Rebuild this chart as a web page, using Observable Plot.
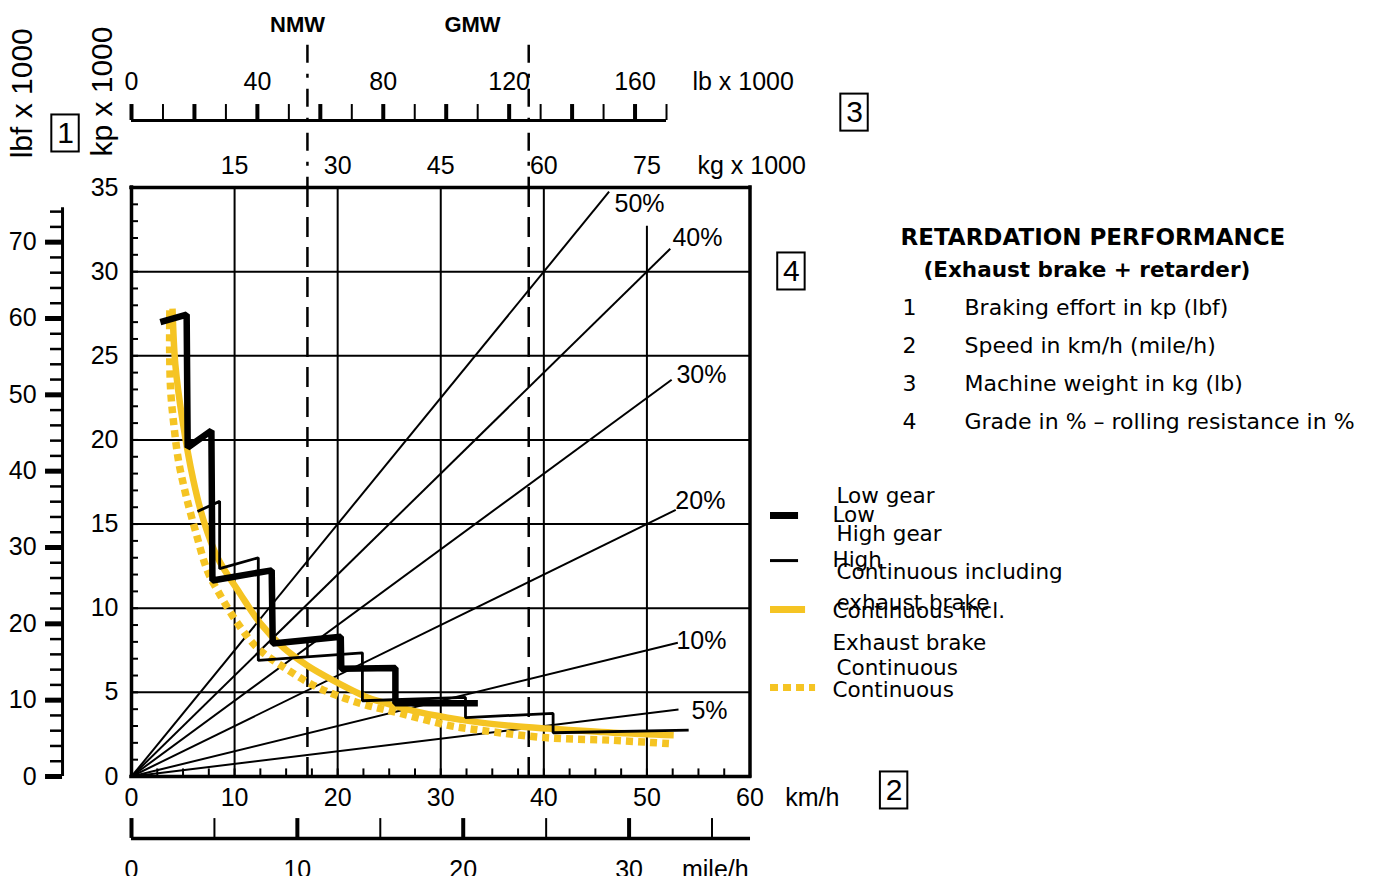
<!DOCTYPE html>
<html>
<head>
<meta charset="utf-8">
<script src="https://cdn.jsdelivr.net/npm/d3@7"></script>
<script src="https://cdn.jsdelivr.net/npm/@observablehq/plot@0.6"></script>
<style>
html, body { margin: 0; padding: 0; background: #fff; }
#chart { width: 1376px; height: 876px; overflow: hidden; }
</style>
</head>
<body>
<div id="chart"></div>
<script>
// ---------------- DATA (speed km/h, braking effort kp x 1000) ----------------
const lowGear = [
  [2.8, 27.0], [5.35, 27.45], [5.45, 19.55], [7.75, 20.55], [7.85, 11.65],
  [13.6, 12.25], [13.7, 7.9], [20.3, 8.3], [20.35, 6.4], [25.6, 6.45],
  [25.6, 4.35], [33.6, 4.35]
];
const highGear = [
  [6.4, 15.75], [8.55, 16.35], [8.55, 12.35], [12.3, 13.0], [12.3, 6.9],
  [22.4, 7.35], [22.4, 4.5], [32.4, 4.7], [32.4, 3.5], [40.9, 3.75],
  [40.9, 2.6], [54.05, 2.75]
];
const contExhaust = [
  [3.98, 27.8], [4.25, 24.5], [4.95, 21.15], [6.0, 17.6], [7.0, 15.2],
  [8.35, 13.0], [10.55, 10.85], [12.5, 9.1], [14.75, 7.65], [17.05, 6.6],
  [19.6, 5.7], [22.9, 4.7], [24.15, 4.45], [27.35, 3.9], [30.65, 3.5],
  [33.9, 3.2], [37.05, 3.0], [40.35, 2.85], [46.75, 2.6], [52.6, 2.45]
];
const contOnly = [
  [3.72, 27.7], [3.7, 25.5], [3.8, 22.95], [4.1, 20.95], [4.55, 18.8],
  [5.25, 16.8], [6.2, 14.6], [7.35, 12.25], [8.35, 11.05], [10.3, 9.1],
  [12.2, 7.65], [14.75, 6.5], [18.05, 5.3], [21.9, 4.4], [26.1, 3.75],
  [30.65, 3.05], [33.85, 2.75], [40.35, 2.3], [46.75, 2.15], [52.3, 1.95]
];
// grade lines: effort = weight x grade, drawn up to a machine weight (kg x 1000)
const grades = [5, 10, 20, 30, 40, 50];
const gradeEndWeight = [79.6, 79.5, 79.2, 78.6, 78.4, 69.5];
const gradeLabels = ["5%", "10%", "20%", "30%", "40%", "50%"];

// tick values
const kpTicks = [0, 5, 10, 15, 20, 25, 30, 35];
const kpGrid = [5, 10, 15, 20, 25, 30];
const lbfTicks = [0, 10, 20, 30, 40, 50, 60, 70];
const kmhTicks = [0, 10, 20, 30, 40, 50, 60];
const kgTicks = [15, 30, 45, 60, 75];
const lbTicks = [0, 40, 80, 120, 160];
const mphTicks = [0, 10, 20, 30];
const weightMarks = ["NMW", "GMW"];
const weightMarkKg = [25.6, 57.8];

// text
const infoTitle = "RETARDATION PERFORMANCE";
const infoSubtitle = "(Exhaust brake + retarder)";
const infoNums = ["1", "2", "3", "4"];
const infoItems = ["Braking effort in kp (lbf)", "Speed in km/h (mile/h)",
  "Machine weight in kg (lb)", "Grade in % \u2013 rolling resistance in %"];
const legendUpper = ["Low gear", "High gear", "Continuous including", "exhaust brake", "Continuous"];
const legendLower = ["Low", "High", "Continuous incl.", "Exhaust brake", "Continuous"];

// ---------------- scale conversions onto the shared axes ----------------
const kg = v => v / 1.5;         // kg x 1000 -> horizontal position in km/h units
const lb = v => v * 0.3053;      // lb x 1000 -> km/h units
const mph = v => v * 1.609;      // mile/h -> km/h
const lbf = v => v / 2.2046;     // lbf -> kp

const YEL = "#f5c423";
const AX = "Liberation Sans, Arial, sans-serif";
const TX = "DejaVu Sans, Verdana, sans-serif";

// layout constants (in chart units)
const LBF_AXIS_X = -6.69;
const LB_AXIS_Y = 38.98;
const MPH_AXIS_Y = -3.68;

const marks = [
  // grid
  Plot.ruleY(kpGrid, {x1: 0, x2: 60, stroke: "black", strokeWidth: 2}),
  Plot.ruleX([15, 30, 45, 60].map(kg), {y1: 0, y2: 35, stroke: "black", strokeWidth: 2}),
  Plot.ruleX([kg(75)], {y1: 0, y2: 32.7, stroke: "black", strokeWidth: 2}),
  // weight dashed lines
  Plot.ruleX(weightMarkKg.map(kg), {y1: 35, y2: 0, stroke: "black", strokeWidth: 2.5, strokeDasharray: "20,10"}),
  Plot.ruleX(weightMarkKg.map(kg), {y1: 43.45, y2: 35, stroke: "black", strokeWidth: 2.5, strokeDasharray: "18,11,4,11"}),
  // minor ticks
  Plot.ruleY(d3.range(1, 35), {x1: 0, x2: 0.68, stroke: "black", strokeWidth: 2}),
  Plot.ruleX(d3.range(2.5, 60, 2.5), {y1: 0, y2: 0.45, stroke: "black", strokeWidth: 2}),
  // grade lines
  Plot.link(grades, {
    x1: 0, y1: 0,
    x2: (g, i) => kg(gradeEndWeight[i]),
    y2: (g, i) => gradeEndWeight[i] * g / 100,
    stroke: "black", strokeWidth: 2
  }),
  Plot.text(gradeLabels, {
    x: [54.32, 52.86, 52.76, 52.86, 52.47, 46.86],
    y: [3.92, 8.08, 16.40, 23.83, 31.97, 33.99],
    text: d => d, textAnchor: "start", fontFamily: AX, fontSize: 25
  }),
  // frame
  Plot.ruleX([0, 60], {y1: 0, y2: 35, stroke: "black", strokeWidth: 3.5, strokeLinecap: "square"}),
  Plot.ruleY([0, 35], {x1: 0, x2: 60, stroke: "black", strokeWidth: 3.5, strokeLinecap: "square"}),
  // curves
  Plot.line(contOnly, {x: d => d[0], y: d => d[1], stroke: YEL, strokeWidth: 7.5, strokeDasharray: "7,5", strokeLinecap: "butt", curve: "catmull-rom"}),
  Plot.line(contExhaust, {x: d => d[0], y: d => d[1], stroke: YEL, strokeWidth: 6.5, strokeLinecap: "butt", curve: "catmull-rom"}),
  Plot.line(highGear, {x: d => d[0], y: d => d[1], stroke: "black", strokeWidth: 2.8, strokeLinejoin: "miter", strokeLinecap: "butt"}),
  Plot.line(lowGear, {x: d => d[0], y: d => d[1], stroke: "black", strokeWidth: 6.5, strokeLinejoin: "miter", strokeLinecap: "butt"}),

  // kp axis labels
  Plot.text(kpTicks, {x: 0, y: d => d, dx: -13, textAnchor: "end", fontFamily: AX, fontSize: 25}),
  // lbf axis
  Plot.ruleX([LBF_AXIS_X], {y1: 0, y2: lbf(74.5), stroke: "black", strokeWidth: 3}),
  Plot.ruleY(lbfTicks.map(lbf), {x1: -8.34, x2: LBF_AXIS_X, stroke: "black", strokeWidth: 5}),
  Plot.ruleY(d3.range(0, 75, 2).filter(v => v % 10 !== 0).map(lbf), {x1: -7.86, x2: LBF_AXIS_X, stroke: "black", strokeWidth: 2.5}),
  Plot.text(lbfTicks, {x: LBF_AXIS_X, y: d => lbf(d), dx: -26, textAnchor: "end", fontFamily: AX, fontSize: 25}),
  Plot.text(["lbf x 1000"], {x: -10.57, y: 40.6, rotate: -90, fontFamily: AX, fontSize: 30}),
  Plot.text(["kp x 1000"], {x: -2.85, y: 40.7, rotate: -90, fontFamily: AX, fontSize: 30}),

  // km/h axis labels
  Plot.text(kmhTicks, {x: d => d, y: 0, dy: 21, fontFamily: AX, fontSize: 25}),
  Plot.text(["km/h"], {x: 66.05, y: 0, dy: 21, fontFamily: AX, fontSize: 25}),

  // mile/h axis
  Plot.ruleY([MPH_AXIS_Y], {x1: 0, x2: 60.05, stroke: "black", strokeWidth: 3.5}),
  Plot.ruleX(mphTicks.map(mph), {y1: MPH_AXIS_Y, y2: -2.5, stroke: "black", strokeWidth: 4}),
  Plot.ruleX([5, 15, 25, 35].map(mph), {y1: MPH_AXIS_Y, y2: -2.5, stroke: "black", strokeWidth: 2}),
  Plot.text(mphTicks, {x: d => mph(d), y: -5.53, fontFamily: AX, fontSize: 25}),
  Plot.text(["mile/h"], {x: 53.4, y: -5.53, textAnchor: "start", fontFamily: AX, fontSize: 25}),

  // lb axis (top)
  Plot.ruleY([LB_AXIS_Y], {x1: 0, x2: lb(170), stroke: "black", strokeWidth: 3}),
  Plot.ruleX(d3.range(0, 180, 20).map(lb), {y1: LB_AXIS_Y, y2: 39.93, stroke: "black", strokeWidth: 4}),
  Plot.ruleX(d3.range(10, 180, 20).map(lb), {y1: LB_AXIS_Y, y2: 39.93, stroke: "black", strokeWidth: 2}),
  Plot.text(lbTicks, {x: d => lb(d), y: 41.24, fontFamily: AX, fontSize: 25}),
  Plot.text(["lb x 1000"], {x: 54.41, y: 41.24, textAnchor: "start", fontFamily: AX, fontSize: 25}),

  // kg labels
  Plot.text(kgTicks, {x: d => kg(d), y: 36.3, fontFamily: AX, fontSize: 25}),
  Plot.text(["kg x 1000"], {x: 54.9, y: 36.3, textAnchor: "start", fontFamily: AX, fontSize: 25}),

  // NMW / GMW
  Plot.text(weightMarks, {x: [16.11, 33.08], y: 44.68, fontFamily: AX, fontSize: 22, fontWeight: "bold"}),

  // boxed numbers
  Plot.rect(["1", "3", "4", "2"], {
    x1: [-6.40, 70.14, 64.02, 73.98].map(v => v - 1.33),
    x2: [-6.40, 70.14, 64.02, 73.98].map(v => v + 1.33),
    y1: [38.21, 39.45, 30.01, -0.83].map(v => v - 1.1),
    y2: [38.21, 39.45, 30.01, -0.83].map(v => v + 1.1),
    fill: "none", stroke: "black", strokeWidth: 2
  }),
  Plot.text(["1", "3", "4", "2"], {
    x: [-6.40, 70.14, 64.02, 73.98], y: [38.21, 39.45, 30.01, -0.83],
    fontFamily: AX, fontSize: 30
  }),

  // info block
  Plot.text([infoTitle], {x: 74.6, y: 32.03, textAnchor: "start", fontFamily: TX, fontSize: 23, fontWeight: "bold"}),
  Plot.text([infoSubtitle], {x: 76.83, y: 30.12, textAnchor: "start", fontFamily: TX, fontSize: 21.5, fontWeight: "bold"}),
  Plot.text(infoNums, {x: 74.8, y: [27.87, 25.61, 23.35, 21.09], textAnchor: "start", fontFamily: TX, fontSize: 22}),
  Plot.text(infoItems, {x: 80.81, y: [27.87, 25.61, 23.35, 21.09], textAnchor: "start", fontFamily: TX, fontSize: 22}),

  // legend keys
  Plot.ruleY([15.51], {x1: 61.99, x2: 64.71, stroke: "black", strokeWidth: 7}),
  Plot.ruleY([12.83], {x1: 61.99, x2: 64.71, stroke: "black", strokeWidth: 3}),
  Plot.ruleY([9.92], {x1: 61.99, x2: 65.39, stroke: YEL, strokeWidth: 7}),
  Plot.ruleY([5.29], {x1: 61.99, x2: 66.36, stroke: YEL, strokeWidth: 7, strokeDasharray: "8,5"}),
  Plot.text(legendUpper, {x: 68.39, y: [16.64, 14.38, 12.12, 10.28, 6.42], textAnchor: "start", fontFamily: TX, fontSize: 21.5}),
  Plot.text(legendLower, {x: 68.0, y: [15.51, 12.83, 9.80, 7.90, 5.11], textAnchor: "start", fontFamily: TX, fontSize: 21.5})
];

const chart = Plot.plot({
  width: 1376,
  height: 876,
  x: {domain: [0, 60], range: [131, 749.5], axis: null},
  y: {domain: [0, 35], range: [776, 187], axis: null},
  style: {background: "white", color: "black", fontFamily: AX, overflow: "visible"},
  marks
});
document.getElementById("chart").appendChild(chart);
</script>
</body>
</html>
